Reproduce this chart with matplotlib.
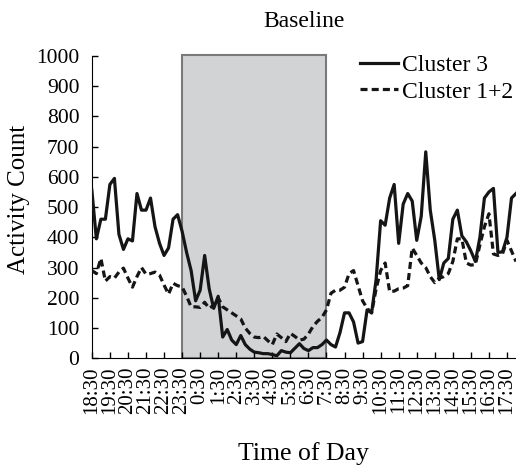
import matplotlib.pyplot as plt
from matplotlib.patches import Rectangle

plt.rcParams['font.family'] = ['Liberation Serif', 'DejaVu Serif']

# quarter-hour samples starting at 18:30
cluster3 = [556, 395, 460, 460, 575, 595, 410, 360, 395, 388,
            545, 490, 490, 530, 435, 380, 340, 365, 460, 475,
            420, 350, 290, 190, 225, 340, 230, 165, 205, 70,
            95, 60, 45, 75, 45, 30, 20, 18, 15, 15,
            12, 8, 25, 20, 18, 33, 48, 32, 25, 35,
            35, 45, 60, 45, 37, 85, 150, 150, 120, 50,
            55, 160, 150, 260, 455, 440, 530, 575, 380, 510,
            545, 520, 390, 470, 683, 490, 390, 260, 315, 330,
            460, 490, 405, 385, 355, 320, 400, 530, 550, 562,
            350, 352, 400, 530, 545]
cluster12 = [290, 280, 330, 255, 270, 265, 285, 298, 265, 235,
             270, 300, 278, 280, 285, 275, 242, 212, 248, 240,
             236, 205, 170, 170, 168, 185, 165, 175, 200, 170,
             160, 150, 140, 130, 100, 82, 70, 68, 72, 58,
             45, 80, 68, 55, 82, 72, 60, 63, 80, 105,
             122, 135, 160, 215, 225, 225, 235, 280, 290, 240,
             190, 165, 150, 230, 290, 315, 220, 222, 230, 232,
             240, 365, 340, 315, 300, 270, 250, 265, 270, 280,
             320, 395, 395, 315, 308, 310, 375, 435, 478, 345,
             340, 345, 390, 355, 320]
hours = [18, 19, 20, 21, 22, 23, 0, 1, 2, 3, 4, 5, 6, 7,
         8, 9, 10, 11, 12, 13, 14, 15, 16, 17]
tick_labels = [f"{h}:30" for h in hours]
sleep_start, sleep_end = 5, 13   # 23:30 .. 7:30

t = [i * 0.25 for i in range(len(cluster3))]

fig = plt.figure(figsize=(5.16, 4.67), dpi=100)
ax = fig.add_axes([0.178, 0.233, 0.822, 0.647])

ax.add_patch(Rectangle((sleep_start, 0), sleep_end - sleep_start, 1005,
                       facecolor='#d1d3d5', edgecolor='#7a7a7a', linewidth=1.5,
                       clip_on=False, zorder=1))

ax.plot(t, cluster3, color='#151515', linewidth=2.3, label='Cluster 3', zorder=3)
ax.plot(t, cluster12, color='#151515', linewidth=2.3, linestyle=(0, (2.2, 1.3)),
        label='Cluster 1+2', zorder=3)

ax.set_xlim(0, 23.5)
ax.set_ylim(0, 1000)
ax.set_yticks(range(0, 1001, 100))
ax.set_xticks(range(len(hours)))
ax.set_xticklabels(tick_labels, rotation=90)
ax.tick_params(direction='in', labelsize=15, length=4, width=1)
ax.tick_params(axis='x', pad=6)
ax.tick_params(axis='y', pad=9, labelsize=15.5)

for side in ['top', 'right']:
    ax.spines[side].set_visible(False)

ax.set_title('Baseline', fontsize=17, pad=21)
ax.set_xlabel('Time of Day', fontsize=18.5, labelpad=20)
ax.set_ylabel('Activity Count', fontsize=18)
ax.yaxis.set_label_coords(-0.145, 0.525)

ax.legend(loc='upper right', bbox_to_anchor=(1.015, 1.035), frameon=False,
          fontsize=17, handlelength=1.6, handletextpad=0.15, labelspacing=0.2,
          borderaxespad=0)

fig.savefig('out.png', dpi=100)
